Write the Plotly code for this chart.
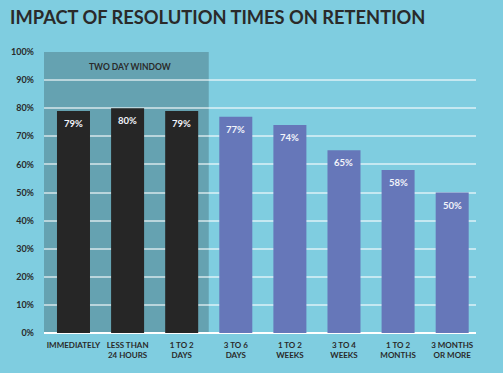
import plotly.graph_objects as go

categories = ["IMMEDIATELY", "LESS THAN<br>24 HOURS", "1 TO 2<br>DAYS", "3 TO 6<br>DAYS",
              "1 TO 2<br>WEEKS", "3 TO 4<br>WEEKS", "1 TO 2<br>MONTHS", "3 MONTHS<br>OR MORE"]
values = [79, 80, 79, 77, 74, 65, 58, 50]
labels = [f"{v}%" for v in values]
tick_vals = list(range(0, 101, 10))
tick_text = [f"{v}%" for v in tick_vals]
window_label = "TWO DAY WINDOW"
window_count = 3

BG = "#7fcde0"
SHADE = "#65a2b1"
DARK = "#262626"
BLUE = "#6677b9"
TXT = "#2a2a2a"

colors = [DARK if i < window_count else BLUE for i in range(len(values))]
xs = list(range(len(values)))

fig = go.Figure(go.Bar(
    x=xs, y=values, width=0.61, marker=dict(color=colors, line=dict(width=0)),
    hoverinfo="skip",
))

for xi, v, lab in zip(xs, values, labels):
    fig.add_annotation(x=xi, y=v, xref="x", yref="y", text=lab, showarrow=False,
                       yanchor="top", yshift=-5,
                       font=dict(family="Lato", size=9.5, color="#f2f4fa", weight="bold"))

fig.add_shape(type="rect", xref="x", yref="y", x0=-0.545, x1=window_count - 0.5, y0=0, y1=100,
              fillcolor=SHADE, line=dict(width=0), layer="below")
fig.add_annotation(x=(window_count - 1) / 2 + 0.05, y=94.6, xref="x", yref="y", text=window_label,
                   showarrow=False, font=dict(family="Lato", size=8.5, color=TXT, weight="bold"))

fig.update_layout(
    width=503, height=373,
    margin=dict(l=44, r=27, t=52, b=40, autoexpand=False),
    paper_bgcolor=BG, plot_bgcolor=BG,
    showlegend=False,
    title=dict(text="IMPACT OF RESOLUTION TIMES ON RETENTION", x=0.02, xanchor="left",
               y=0.952, yanchor="middle", automargin=False,
               font=dict(family="Lato", size=18.3, color=TXT, weight="bold")),
)
fig.update_xaxes(range=[-0.545, 7.44], tickmode="array", tickvals=xs, ticktext=categories,
                 showgrid=False, zeroline=False, showline=False, ticks="", automargin=False,
                 tickfont=dict(family="Lato", size=8, color=TXT, weight="bold"), ticklen=0,
                 ticklabelstandoff=6, fixedrange=True)
fig.update_yaxes(range=[0, 100], tickmode="array", tickvals=tick_vals, ticktext=tick_text,
                 showgrid=True, gridcolor="rgba(255,255,255,0.55)", gridwidth=1.5,
                 zeroline=True, zerolinecolor="#ffffff", zerolinewidth=1.5, automargin=False,
                 tickfont=dict(family="Lato", size=9, color=TXT, weight="bold"),
                 ticks="", ticklabelstandoff=9, fixedrange=True)

fig.write_html("out.html", config={"displayModeBar": False},
               post_script="document.body.style.margin='0';document.body.style.background='#7fcde0';")
